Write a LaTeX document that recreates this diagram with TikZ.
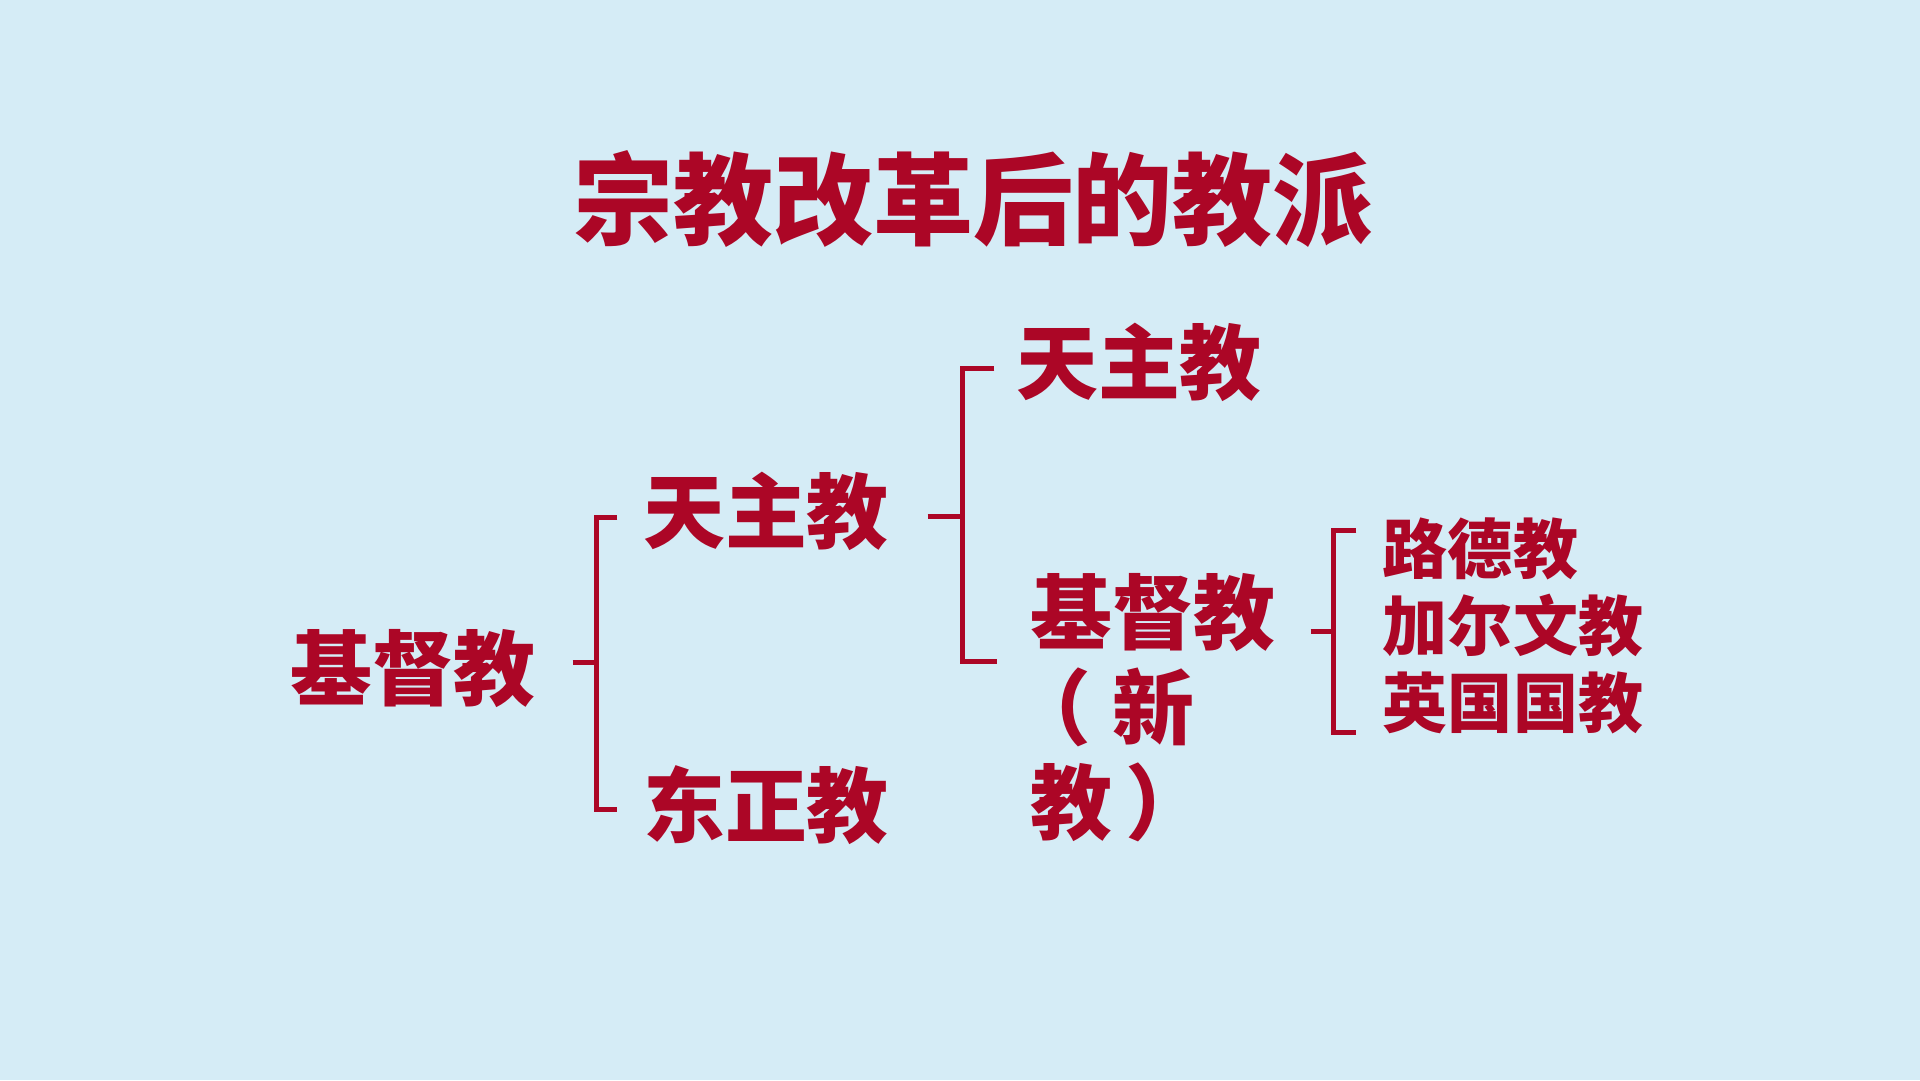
\documentclass[tikz,border=0pt]{standalone}
\usepackage{fontspec}
\newfontfamily\cjk{Noto Sans CJK SC}
\usepackage{tikz}
\usetikzlibrary{positioning, calc}
\definecolor{paperblue}{RGB}{213,236,246}
\definecolor{churchred}{RGB}{172,6,38}

\begin{document}
\begin{tikzpicture}[
  x=0.1mm, y=-0.1mm,
  label/.style={inner sep=0pt, text=churchred, font=\cjk\bfseries\fontsize{23.3pt}{27pt}\selectfont},
  small/.style={inner sep=0pt, text=churchred, align=left, font=\cjk\bfseries\fontsize{18.5pt}{21.9pt}\selectfont},
  heading/.style={inner sep=0pt, text=churchred, font=\cjk\bfseries\fontsize{28.45pt}{34pt}\selectfont},
  brk/.style={draw=churchred, line width=0.5mm}
]

% Background
\fill[paperblue] (0,0) rectangle (1920,1080);
\useasboundingbox (0,0) rectangle (1920,1080);

% Title
\node[heading] (title) at (973,199) {宗教改革后的教派};

% Tree nodes
\node[label] (root) at (413,669) {基督教};
\node[label] (cath) at (766,511) {天主教};
\node[label] (orth) at (766,805) {东正教};
\node[label] (cathnew) at (1139,362) {天主教};
\node[label, align=left] (prot) at (1153,708) {基督教\\\kern-2.1mm（\kern2.1mm新\\教\kern1.3mm）};
\node[small] (sects) at (1513,626) {路德教\\加尔文教\\英国国教};

% Brackets
\draw[brk] ([xshift=3.6mm,yshift=0.7mm]root.east) -- ++(2.4mm,0) coordinate (j1);
\draw[brk] ([xshift=-2.5mm,yshift=-0.6mm]cath.west) -| (j1) |- ([xshift=-2.5mm,yshift=-0.4mm]orth.west);
\draw[brk] ([xshift=3.8mm,yshift=-0.5mm]cath.east) -- ++(3.5mm,0) coordinate (j2);
\draw[brk] ([xshift=-2.1mm,yshift=-0.6mm]cathnew.west) -| (j2) |- ([xshift=-3.2mm,yshift=4.7mm]prot.west);
\draw[brk] ([xshift=3.4mm,yshift=-0.5mm]prot.east |- sects.west) -- ++(2.3mm,0) coordinate (j3);
\draw[brk] ([xshift=-2.6mm,yshift=-1.3mm]sects.north west) -| (j3) |- ([xshift=-2.6mm,yshift=0.2mm]sects.south west);

\end{tikzpicture}
\end{document}
